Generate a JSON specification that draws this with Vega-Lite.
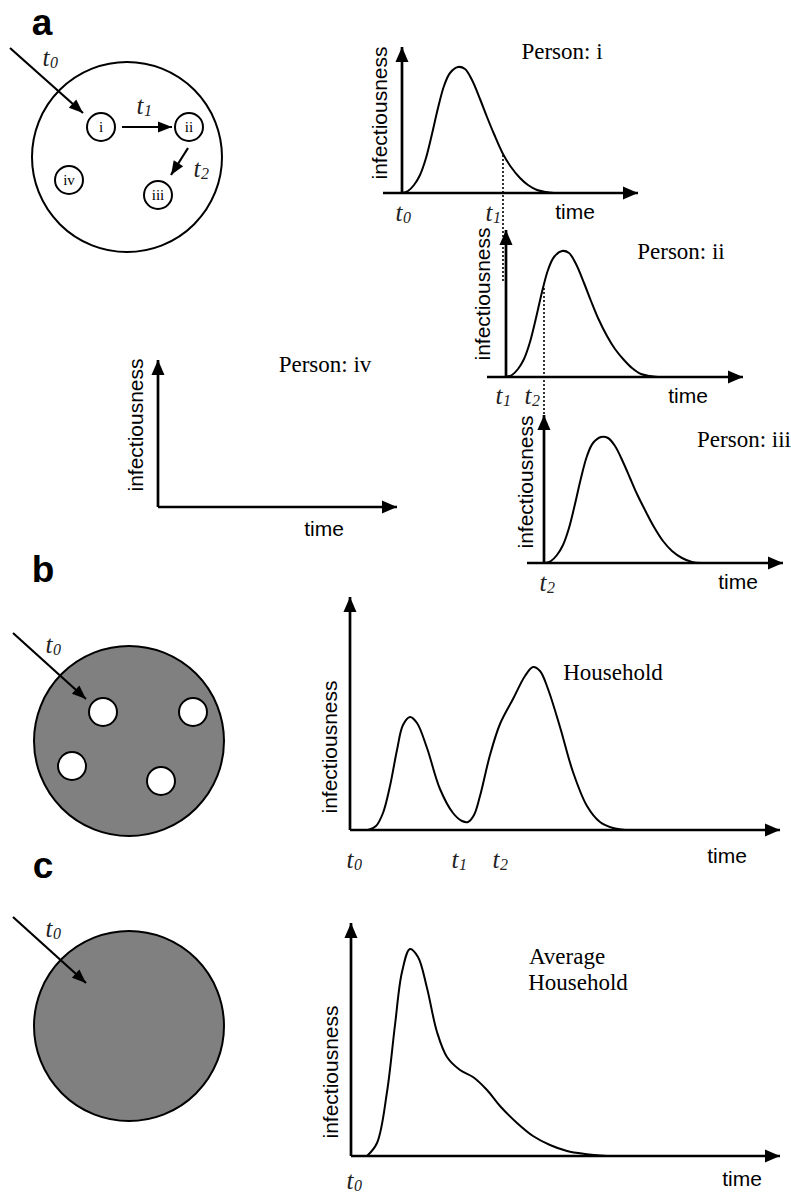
{
  "$schema": "https://vega.github.io/schema/vega-lite/v6.json",
  "width": 791,
  "height": 1195,
  "padding": 0,
  "autosize": {"type": "none"},
  "background": "white",
  "config": {"view": {"stroke": null}},
  "datasets": {
    "households": [
      {"x": 127, "y": 157, "state": "individual"},
      {"x": 129, "y": 741, "state": "pooled"},
      {"x": 129, "y": 1026, "state": "pooled"}
    ],
    "members": [
      {"x": 101, "y": 127, "label": "i"},
      {"x": 189, "y": 127, "label": "ii"},
      {"x": 158, "y": 195, "label": "iii"},
      {"x": 69, "y": 180, "label": "iv"},
      {"x": 103, "y": 712, "label": ""},
      {"x": 193, "y": 712, "label": ""},
      {"x": 72, "y": 766, "label": ""},
      {"x": 161, "y": 781, "label": ""}
    ],
    "curves": [
      {"panel": "i", "x": 402, "y": 193}, {"panel": "i", "x": 408, "y": 191}, {"panel": "i", "x": 414, "y": 185},
      {"panel": "i", "x": 420, "y": 175}, {"panel": "i", "x": 426, "y": 158}, {"panel": "i", "x": 432, "y": 134},
      {"panel": "i", "x": 438, "y": 108}, {"panel": "i", "x": 444, "y": 86}, {"panel": "i", "x": 450, "y": 73},
      {"panel": "i", "x": 458, "y": 67}, {"panel": "i", "x": 465, "y": 69}, {"panel": "i", "x": 472, "y": 80},
      {"panel": "i", "x": 480, "y": 99}, {"panel": "i", "x": 487, "y": 117}, {"panel": "i", "x": 494, "y": 134},
      {"panel": "i", "x": 503, "y": 154}, {"panel": "i", "x": 511, "y": 167}, {"panel": "i", "x": 520, "y": 178},
      {"panel": "i", "x": 528, "y": 185}, {"panel": "i", "x": 537, "y": 190}, {"panel": "i", "x": 546, "y": 192},
      {"panel": "i", "x": 554, "y": 193},
      {"panel": "ii", "x": 506, "y": 377}, {"panel": "ii", "x": 512, "y": 375}, {"panel": "ii", "x": 518, "y": 369},
      {"panel": "ii", "x": 524, "y": 359}, {"panel": "ii", "x": 530, "y": 342}, {"panel": "ii", "x": 536, "y": 318},
      {"panel": "ii", "x": 542, "y": 292}, {"panel": "ii", "x": 548, "y": 270}, {"panel": "ii", "x": 554, "y": 257},
      {"panel": "ii", "x": 562, "y": 251}, {"panel": "ii", "x": 569, "y": 253}, {"panel": "ii", "x": 576, "y": 264},
      {"panel": "ii", "x": 584, "y": 283}, {"panel": "ii", "x": 591, "y": 301}, {"panel": "ii", "x": 598, "y": 318},
      {"panel": "ii", "x": 607, "y": 336}, {"panel": "ii", "x": 615, "y": 349}, {"panel": "ii", "x": 624, "y": 360},
      {"panel": "ii", "x": 632, "y": 368}, {"panel": "ii", "x": 641, "y": 374}, {"panel": "ii", "x": 650, "y": 376},
      {"panel": "ii", "x": 658, "y": 377},
      {"panel": "iii", "x": 545, "y": 563}, {"panel": "iii", "x": 551, "y": 561}, {"panel": "iii", "x": 557, "y": 555},
      {"panel": "iii", "x": 563, "y": 545}, {"panel": "iii", "x": 569, "y": 528}, {"panel": "iii", "x": 575, "y": 504},
      {"panel": "iii", "x": 581, "y": 478}, {"panel": "iii", "x": 587, "y": 456}, {"panel": "iii", "x": 593, "y": 443},
      {"panel": "iii", "x": 601, "y": 437}, {"panel": "iii", "x": 608, "y": 438}, {"panel": "iii", "x": 615, "y": 446},
      {"panel": "iii", "x": 623, "y": 462}, {"panel": "iii", "x": 630, "y": 478}, {"panel": "iii", "x": 637, "y": 494},
      {"panel": "iii", "x": 646, "y": 512}, {"panel": "iii", "x": 654, "y": 527}, {"panel": "iii", "x": 663, "y": 541},
      {"panel": "iii", "x": 672, "y": 551}, {"panel": "iii", "x": 682, "y": 558}, {"panel": "iii", "x": 692, "y": 562},
      {"panel": "iii", "x": 702, "y": 563},
      {"panel": "household", "x": 368, "y": 830}, {"panel": "household", "x": 376, "y": 826}, {"panel": "household", "x": 383, "y": 813},
      {"panel": "household", "x": 390, "y": 786}, {"panel": "household", "x": 397, "y": 750}, {"panel": "household", "x": 403, "y": 725},
      {"panel": "household", "x": 410, "y": 717}, {"panel": "household", "x": 417, "y": 723}, {"panel": "household", "x": 427, "y": 748},
      {"panel": "household", "x": 440, "y": 789}, {"panel": "household", "x": 453, "y": 813}, {"panel": "household", "x": 462, "y": 821},
      {"panel": "household", "x": 468, "y": 822}, {"panel": "household", "x": 474, "y": 815}, {"panel": "household", "x": 480, "y": 796},
      {"panel": "household", "x": 490, "y": 755}, {"panel": "household", "x": 500, "y": 724}, {"panel": "household", "x": 513, "y": 699},
      {"panel": "household", "x": 525, "y": 676}, {"panel": "household", "x": 533, "y": 667}, {"panel": "household", "x": 540, "y": 671},
      {"panel": "household", "x": 548, "y": 689}, {"panel": "household", "x": 560, "y": 727}, {"panel": "household", "x": 573, "y": 772},
      {"panel": "household", "x": 587, "y": 806}, {"panel": "household", "x": 600, "y": 822}, {"panel": "household", "x": 613, "y": 828},
      {"panel": "household", "x": 625, "y": 830},
      {"panel": "average", "x": 367, "y": 1156}, {"panel": "average", "x": 377, "y": 1143}, {"panel": "average", "x": 387, "y": 1092},
      {"panel": "average", "x": 395, "y": 1025}, {"panel": "average", "x": 402, "y": 972}, {"panel": "average", "x": 410, "y": 949},
      {"panel": "average", "x": 418, "y": 957}, {"panel": "average", "x": 427, "y": 988}, {"panel": "average", "x": 437, "y": 1032},
      {"panel": "average", "x": 447, "y": 1057}, {"panel": "average", "x": 460, "y": 1070}, {"panel": "average", "x": 473, "y": 1077},
      {"panel": "average", "x": 487, "y": 1090}, {"panel": "average", "x": 500, "y": 1106}, {"panel": "average", "x": 517, "y": 1123},
      {"panel": "average", "x": 533, "y": 1136}, {"panel": "average", "x": 550, "y": 1145}, {"panel": "average", "x": 567, "y": 1151},
      {"panel": "average", "x": 585, "y": 1154}, {"panel": "average", "x": 607, "y": 1156}
    ],
    "guides": [
      {"x": 503, "y": 155, "y2": 283},
      {"x": 544, "y": 288, "y2": 415}
    ],
    "axes": [
      {"x": 402, "y": 193, "x2": 402, "y2": 47},
      {"x": 383, "y": 193, "x2": 638, "y2": 193},
      {"x": 506, "y": 377, "x2": 506, "y2": 230},
      {"x": 487, "y": 377, "x2": 743, "y2": 377},
      {"x": 544, "y": 563, "x2": 544, "y2": 415},
      {"x": 527, "y": 563, "x2": 783, "y2": 563},
      {"x": 158, "y": 507, "x2": 158, "y2": 360},
      {"x": 158, "y": 507, "x2": 397, "y2": 507},
      {"x": 350, "y": 830, "x2": 350, "y2": 597},
      {"x": 350, "y": 830, "x2": 780, "y2": 830},
      {"x": 351, "y": 1156, "x2": 351, "y2": 923},
      {"x": 351, "y": 1156, "x2": 780, "y2": 1156}
    ],
    "pointers": [
      {"x": 10, "y": 48, "x2": 83, "y2": 113},
      {"x": 122, "y": 127, "x2": 172, "y2": 127},
      {"x": 188, "y": 148, "x2": 171, "y2": 175},
      {"x": 13, "y": 633, "x2": 86, "y2": 699},
      {"x": 13, "y": 917, "x2": 86, "y2": 983}
    ],
    "tlabels": [
      {"x": 46, "y": 58, "t": "t", "sub": "0"},
      {"x": 140, "y": 106, "t": "t", "sub": "1"},
      {"x": 197, "y": 169, "t": "t", "sub": "2"},
      {"x": 399, "y": 213, "t": "t", "sub": "0"},
      {"x": 489, "y": 213, "t": "t", "sub": "1"},
      {"x": 499, "y": 396, "t": "t", "sub": "1"},
      {"x": 528, "y": 396, "t": "t", "sub": "2"},
      {"x": 543, "y": 583, "t": "t", "sub": "2"},
      {"x": 49, "y": 645, "t": "t", "sub": "0"},
      {"x": 350, "y": 860, "t": "t", "sub": "0"},
      {"x": 455, "y": 860, "t": "t", "sub": "1"},
      {"x": 496, "y": 860, "t": "t", "sub": "2"},
      {"x": 49, "y": 929, "t": "t", "sub": "0"},
      {"x": 350, "y": 1181, "t": "t", "sub": "0"}
    ],
    "timeLabels": [
      {"x": 575, "y": 213, "label": "time"},
      {"x": 688, "y": 397, "label": "time"},
      {"x": 738, "y": 583, "label": "time"},
      {"x": 324, "y": 530, "label": "time"},
      {"x": 727, "y": 857, "label": "time"},
      {"x": 742, "y": 1180, "label": "time"}
    ],
    "infLabels": [
      {"x": 381, "y": 113, "label": "infectiousness"},
      {"x": 484, "y": 294, "label": "infectiousness"},
      {"x": 527, "y": 482, "label": "infectiousness"},
      {"x": 137, "y": 425, "label": "infectiousness"},
      {"x": 331, "y": 747, "label": "infectiousness"},
      {"x": 332, "y": 1072, "label": "infectiousness"}
    ],
    "titles": [
      {"x": 562, "y": 52, "label": "Person: i"},
      {"x": 681, "y": 252, "label": "Person: ii"},
      {"x": 744, "y": 440, "label": "Person: iii"},
      {"x": 325, "y": 365, "label": "Person: iv"},
      {"x": 613, "y": 673, "label": "Household"},
      {"x": 567, "y": 957, "label": "Average"},
      {"x": 578, "y": 983, "label": "Household"}
    ],
    "letters": [
      {"x": 42, "y": 35, "label": "a"},
      {"x": 43, "y": 582, "label": "b"},
      {"x": 43, "y": 878, "label": "c"}
    ]
  },
  "encoding": {
    "x": {"field": "x", "type": "quantitative", "scale": {"domain": [0, 791], "nice": false, "zero": false}, "axis": null},
    "y": {"field": "y", "type": "quantitative", "scale": {"domain": [0, 1195], "nice": false, "zero": false, "reverse": true}, "axis": null}
  },
  "layer": [
    {
      "data": {"name": "households"},
      "mark": {"type": "point", "shape": "circle", "size": 36100, "filled": true, "stroke": "black", "strokeWidth": 2, "opacity": 1},
      "encoding": {
        "fill": {"field": "state", "type": "nominal", "scale": {"domain": ["individual", "pooled"], "range": ["#ffffff", "#808080"]}, "legend": null}
      }
    },
    {
      "data": {"name": "members"},
      "mark": {"type": "point", "shape": "circle", "size": 784, "filled": true, "fill": "white", "stroke": "black", "strokeWidth": 2, "opacity": 1}
    },
    {
      "data": {"name": "members"},
      "mark": {"type": "text", "font": "Liberation Serif", "fontSize": 15, "baseline": "middle", "align": "center", "color": "black"},
      "encoding": {"text": {"field": "label"}}
    },
    {
      "data": {"name": "guides"},
      "mark": {"type": "rule", "color": "black", "strokeWidth": 1.6, "strokeDash": [2, 2]},
      "encoding": {"y2": {"field": "y2"}}
    },
    {
      "data": {"name": "curves"},
      "mark": {"type": "line", "interpolate": "catmull-rom", "color": "black", "strokeWidth": 2},
      "encoding": {"detail": {"field": "panel"}}
    },
    {
      "data": {"name": "axes"},
      "mark": {"type": "rule", "color": "black", "strokeWidth": 2.7},
      "encoding": {"x2": {"field": "x2"}, "y2": {"field": "y2"}}
    },
    {
      "data": {"name": "axes"},
      "transform": [{"calculate": "atan2(datum.x2 - datum.x, datum.y - datum.y2) * 180 / PI", "as": "ang"}],
      "mark": {"type": "point", "shape": "M0,0L0.87,2L-0.87,2Z", "size": 225, "filled": true, "fill": "black", "strokeWidth": 0, "opacity": 1},
      "encoding": {
        "x": {"field": "x2", "type": "quantitative"},
        "y": {"field": "y2", "type": "quantitative"},
        "angle": {"field": "ang", "type": "quantitative", "scale": null}
      }
    },
    {
      "data": {"name": "pointers"},
      "mark": {"type": "rule", "color": "black", "strokeWidth": 2.2},
      "encoding": {"x2": {"field": "x2"}, "y2": {"field": "y2"}}
    },
    {
      "data": {"name": "pointers"},
      "transform": [{"calculate": "atan2(datum.x2 - datum.x, datum.y - datum.y2) * 180 / PI", "as": "ang"}],
      "mark": {"type": "point", "shape": "M0,0L0.8,2L-0.8,2Z", "size": 196, "filled": true, "fill": "black", "strokeWidth": 0, "opacity": 1},
      "encoding": {
        "x": {"field": "x2", "type": "quantitative"},
        "y": {"field": "y2", "type": "quantitative"},
        "angle": {"field": "ang", "type": "quantitative", "scale": null}
      }
    },
    {
      "data": {"name": "tlabels"},
      "mark": {"type": "text", "font": "Liberation Serif", "fontStyle": "italic", "fontSize": 25, "baseline": "middle", "align": "center", "color": "#222222"},
      "encoding": {"text": {"field": "t"}}
    },
    {
      "data": {"name": "tlabels"},
      "mark": {"type": "text", "font": "Liberation Serif", "fontStyle": "italic", "fontSize": 16, "baseline": "middle", "align": "center", "dx": 8, "dy": 5, "color": "#222222"},
      "encoding": {"text": {"field": "sub"}}
    },
    {
      "data": {"name": "timeLabels"},
      "mark": {"type": "text", "font": "Liberation Sans", "fontSize": 21, "baseline": "middle", "align": "center", "color": "black"},
      "encoding": {"text": {"field": "label"}}
    },
    {
      "data": {"name": "infLabels"},
      "mark": {"type": "text", "font": "Liberation Sans", "fontSize": 21, "baseline": "middle", "align": "center", "angle": 270, "color": "black"},
      "encoding": {"text": {"field": "label"}}
    },
    {
      "data": {"name": "titles"},
      "mark": {"type": "text", "font": "Liberation Serif", "fontSize": 23, "baseline": "middle", "align": "center", "color": "black"},
      "encoding": {"text": {"field": "label"}}
    },
    {
      "data": {"name": "letters"},
      "mark": {"type": "text", "font": "Liberation Sans", "fontWeight": "bold", "fontSize": 37, "baseline": "alphabetic", "align": "center", "color": "black"},
      "encoding": {"text": {"field": "label"}}
    }
  ]
}
